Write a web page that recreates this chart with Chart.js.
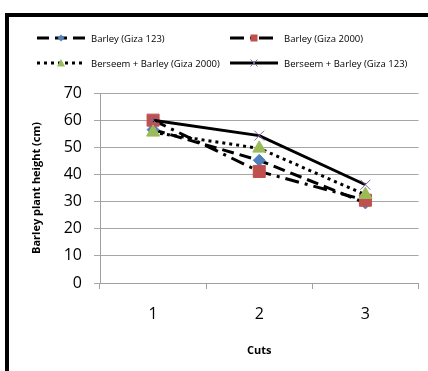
<!DOCTYPE html>
<html lang="en">
<head>
<meta charset="UTF-8">
<title>Barley plant height by cut</title>
<script src="https://cdn.jsdelivr.net/npm/chart.js"></script>
<style>
  html, body { margin: 0; padding: 0; background: #fff; }
  body {
    width: 428px; height: 371px; overflow: hidden; position: relative;
    font-family: "Open Sans", sans-serif;
  }
  #frame {
    position: absolute; left: 5px; top: 13px; width: 500px; height: 400px;
    border-left: 4px solid #000; border-top: 4px solid #000;
  }
  #chart { position: absolute; left: 0; top: 0; }
  .item {
    position: absolute; display: flex; align-items: center; height: 12px;
    font-size: 9.5px; color: #000; white-space: nowrap;
  }
  .item svg { margin-right: 6px; }
</style>
</head>
<body>
  <div id="frame"></div>
  <canvas id="chart" width="428" height="371"></canvas>
  <div id="legend"></div>

  <script>
    // data
    const cuts = ['1', '2', '3'];
    const seriesNames = [
      'Barley (Giza 123)',
      'Barley (Giza 2000)',
      'Berseem + Barley (Giza 2000)',
      'Berseem + Barley (Giza 123)'
    ];
    const barleyGiza123 = [56.5, 45.2, 29.5];
    const barleyGiza2000 = [60, 41.1, 30.5];
    const berseemGiza2000 = [55.5, 49.6, 32.5];
    const berseemGiza123 = [60, 54.3, 36.2];
    const yMin = 0, yMax = 70, yStep = 10;

    const markerColors = ['#4F81BD', '#C0504D', '#9BBB59', '#8064A2'];
    const markerStyles = ['rectRot', 'rect', 'triangle', 'crossRot'];
    const markerSizes = [6, 8.5, 7.5, 7];
    const dashes = [[12, 6], [14, 6, 3, 6], [3, 4], []];
    const values = [barleyGiza123, barleyGiza2000, berseemGiza2000, berseemGiza123];

    const datasets = values.map((v, i) => ({
      label: seriesNames[i],
      data: v,
      borderColor: '#000',
      borderWidth: 3,
      borderDash: dashes[i],
      tension: 0,
      fill: false,
      pointStyle: markerStyles[i],
      pointRadius: markerSizes[i],
      pointBackgroundColor: markerColors[i],
      pointBorderColor: markerColors[i],
      pointBorderWidth: 1,
      order: 3 - i
    }));

    new Chart(document.getElementById('chart'), {
      type: 'line',
      data: { labels: cuts, datasets: datasets },
      options: {
        responsive: false,
        animation: false,
        layout: { padding: { top: 93, right: 9, left: 22, bottom: 0 } },
        plugins: { legend: { display: false }, tooltip: { enabled: false } },
        scales: {
          x: {
            offset: true,
            grid: { offset: true, drawOnChartArea: false, tickLength: 6, color: '#a0a0a0' },
            border: { color: '#a0a0a0' },
            ticks: { color: '#000', padding: 16, font: { family: 'Open Sans', size: 16 } },
            title: {
              display: true, text: 'Cuts', color: '#000',
              font: { family: 'Open Sans', size: 11, weight: 'bold' },
              padding: { top: 4, bottom: 14 }
            },
            afterFit(s) { s.height = 88; }
          },
          y: {
            min: yMin, max: yMax,
            ticks: { stepSize: yStep, color: '#000', padding: 12, font: { family: 'Open Sans', size: 16 } },
            grid: { color: '#a6a6a6', tickLength: 6 },
            border: { color: '#a0a0a0' },
            title: {
              display: true, text: 'Barley plant height (cm)', color: '#000',
              font: { family: 'Open Sans', size: 11, weight: 'bold' },
              padding: { top: 8, bottom: 0 }
            },
            afterFit(s) { s.width = 78; }
          }
        }
      }
    });

    // legend in two aligned columns, built from the datasets
    function markerSvg(i, cx, cy) {
      const c = markerColors[i];
      if (i === 0) return `<polygon points="${cx},${cy-3.5} ${cx+3.5},${cy} ${cx},${cy+3.5} ${cx-3.5},${cy}" fill="${c}"/>`;
      if (i === 1) return `<rect x="${cx-3.5}" y="${cy-3.5}" width="7" height="7" fill="${c}"/>`;
      if (i === 2) return `<polygon points="${cx},${cy-4} ${cx+4},${cy+3.5} ${cx-4},${cy+3.5}" fill="${c}"/>`;
      return `<path d="M${cx-3.5},${cy-3.5}L${cx+3.5},${cy+3.5}M${cx+3.5},${cy-3.5}L${cx-3.5},${cy+3.5}" stroke="${c}" stroke-width="1"/>`;
    }
    const legend = document.getElementById('legend');
    const colX = [37, 230];
    const rowY = [32, 57];
    datasets.forEach((ds, i) => {
      const el = document.createElement('div');
      el.className = 'item';
      el.style.left = colX[i % 2] + 'px';
      el.style.top = rowY[Math.floor(i / 2)] + 'px';
      const w = 48;
      const dash = ds.borderDash.length ? `stroke-dasharray="${ds.borderDash.join(' ')}"` : '';
      el.innerHTML =
        `<svg width="${w}" height="12"><line x1="0" y1="6" x2="${w}" y2="6" stroke="#000" stroke-width="3" ${dash}/>` +
        markerSvg(i, w / 2, 6) + `</svg><span>${ds.label}</span>`;
      legend.appendChild(el);
    });
  </script>
</body>
</html>
